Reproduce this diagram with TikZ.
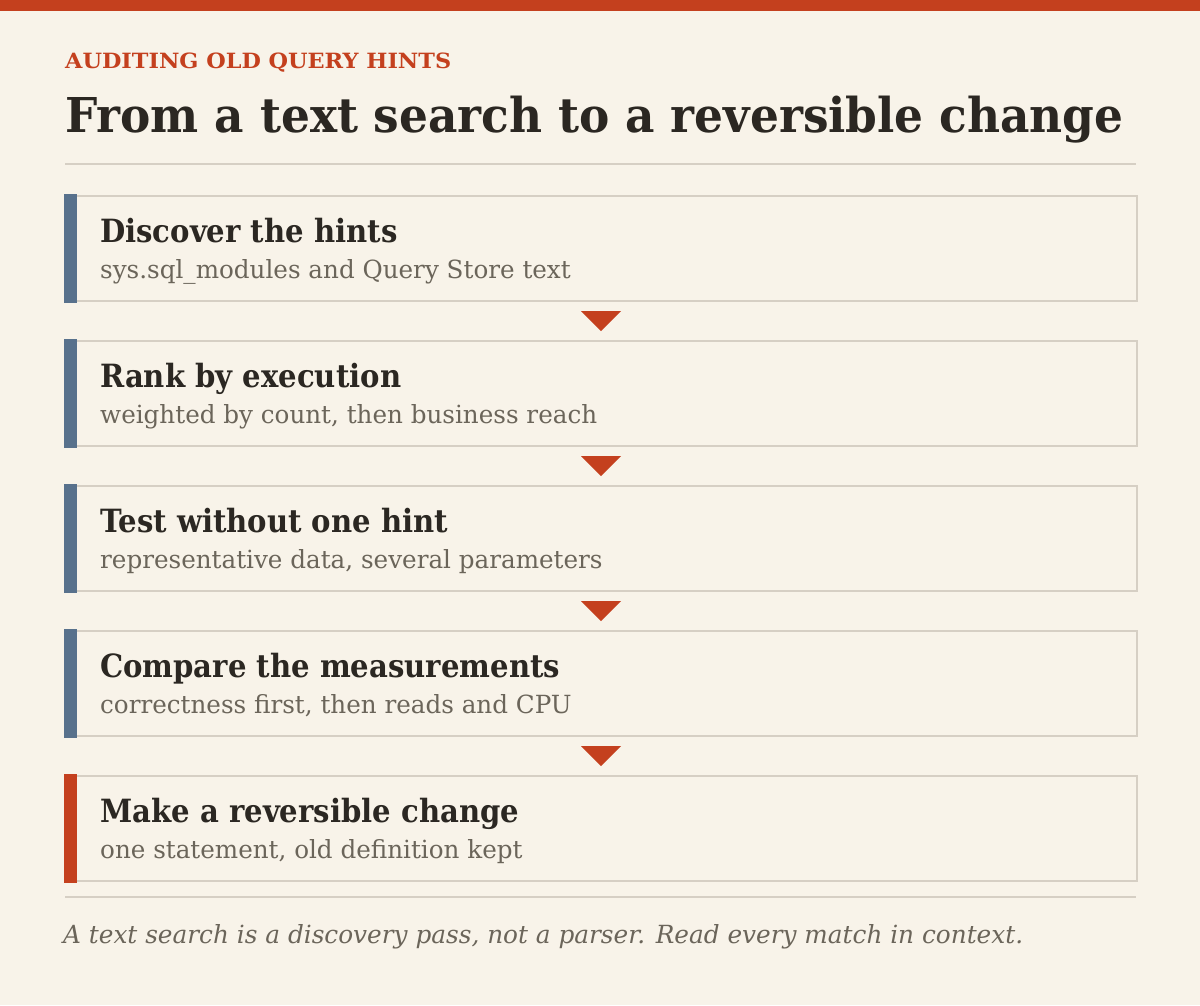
\documentclass[tikz,border=0pt]{standalone}
\usepackage{fontspec}
\setmainfont{DejaVu Serif}
\newfontfamily\eyebrowfont{DejaVu Serif}[FakeStretch=1.065]
\newfontfamily\titlefont{DejaVu Serif}[FakeStretch=0.947]
\newfontfamily\steptitlefont{DejaVu Serif}[FakeStretch=0.91]
\newfontfamily\stepsubfont{DejaVu Serif}[FakeStretch=0.985]
\newfontfamily\footfont{DejaVu Serif}[FakeStretch=0.99]
\usetikzlibrary{calc}
\definecolor{bg}{RGB}{248,243,233}
\definecolor{accent}{RGB}{196,64,30}
\definecolor{slate}{RGB}{88,113,140}
\definecolor{ink}{RGB}{43,39,34}
\definecolor{muted}{RGB}{107,101,90}
\definecolor{rulec}{RGB}{214,207,196}
\tikzset{
  stepbox/.style={draw=rulec, line width=2pt, fill=bg, minimum width=1071pt, minimum height=105pt, anchor=north west, inner sep=0pt},
  steptitle/.style={anchor=base west, inner sep=0pt, text=ink, font=\steptitlefont\fontsize{32}{36}\selectfont\bfseries},
  stepsub/.style={anchor=base west, inner sep=0pt, text=muted, font=\stepsubfont\fontsize{25}{30}\selectfont},
  marker/.style={fill=accent, draw=none},
}
\begin{document}
\begin{tikzpicture}[x=1pt,y=-1pt]
\fill[bg] (0,0) rectangle (1200,1005);
\useasboundingbox (0,0) rectangle (1200,1005);
\fill[accent] (0,0) rectangle (1200,11);
\node[anchor=base west, inner sep=0pt, text=accent, font=\eyebrowfont\fontsize{21}{24}\selectfont\bfseries] (eyebrow) at (65,68) {AUDITING OLD QUERY HINTS};
\node[anchor=base west, inner sep=0pt, text=ink, font=\titlefont\fontsize{48}{56}\selectfont\bfseries] (title) at (65,132) {From a text search to a reversible change};
\draw[rulec, line width=2pt] (65,164) coordinate (r1a) -- (1136,164) coordinate (r1b);
% boxes
\foreach \i/\y/\c/\t/\s in {
  1/195/slate/{Discover the hints}/{sys.sql\_modules and Query Store text},
  2/340/slate/{Rank by execution}/{weighted by count, then business reach},
  3/485/slate/{Test without one hint}/{representative data, several parameters},
  4/630/slate/{Compare the measurements}/{correctness first, then reads and CPU},
  5/775/accent/{Make a reversible change}/{one statement, old definition kept}}{
  \node[stepbox] (b\i) at (65,\y) {};
  \fill[\c] (b\i.north west) ++(-1,-1) rectangle ($(b\i.south west)+(12,1)$);
  \node[steptitle] (t\i) at ($(b\i.north west)+(35,47)$) {\t};
  \node[stepsub] (s\i) at ($(b\i.north west)+(35,83)$) {\s};
}
\foreach \a/\b in {1/2,2/3,3/4,4/5}{
  \fill[marker] ($(b\a.south)+(-20.5,9)$) -- ++(40,0) -- ++(-20,20) -- cycle;
}
\draw[rulec, line width=2pt] (65,897) coordinate (r2a) -- (1136,897) coordinate (r2b);
\node[anchor=base west, inner sep=0pt, text=muted, font=\footfont\fontsize{25}{30}\selectfont\itshape] (foot) at (63,943) {A text search is a discovery pass, not a parser. Read every match in context.};
\end{tikzpicture}
\end{document}
